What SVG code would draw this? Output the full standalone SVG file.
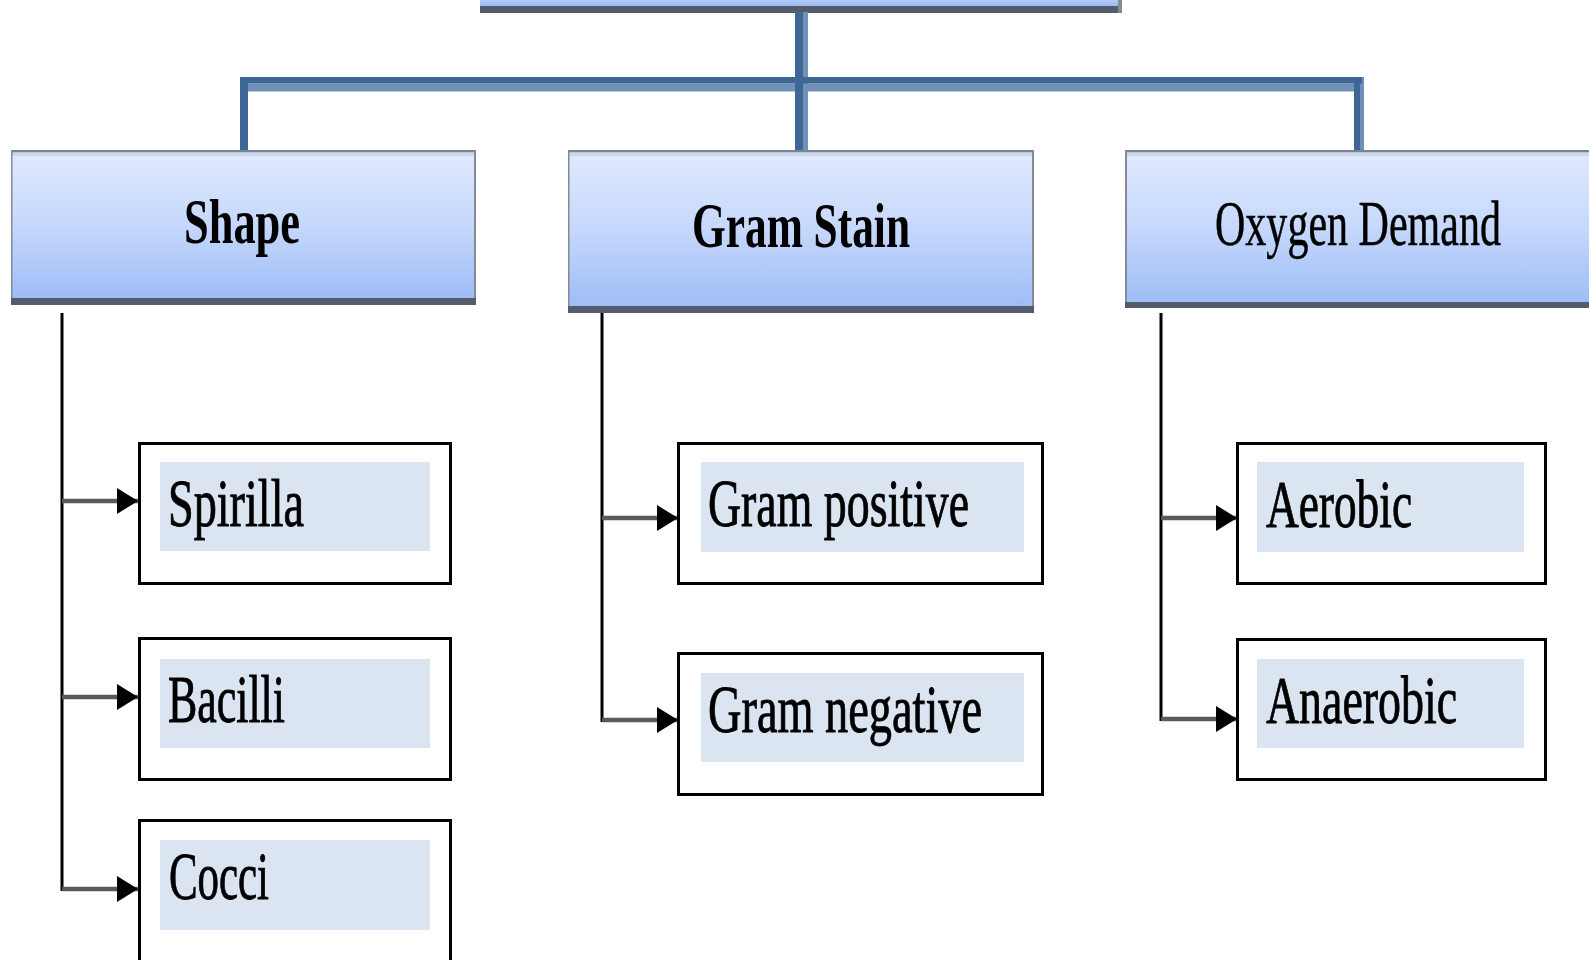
<svg xmlns="http://www.w3.org/2000/svg" width="1589" height="960" viewBox="0 0 1589 960">
  <style>
    .hdr-fill { fill: url(#hdrGrad); }
    .hdr-top { fill: #7d828e; }
    .hdr-hi { fill: #cbd7ee; }
    .hdr-side { fill: #858a96; }
    .hdr-shadow { fill: #545b6b; }
    .hdr-text { font-family: "Liberation Serif", "Times New Roman", serif; font-size: 63px; fill: #000; text-anchor: start; }
    .bold { font-weight: bold; }
    .thin { stroke: #000; stroke-width: 0.5; }
    .leaf-box { fill: #fff; stroke: #000; stroke-width: 3; }
    .leaf-fill { fill: #dbe5f1; }
    .leaf-text { font-family: "Liberation Serif", "Times New Roman", serif; font-size: 68px; fill: #000; stroke: #000; stroke-width: 0.9; }
    .trunk { fill: #3e6696; }
    .trunk-shade { fill: #7090b8; }
    .stem { stroke: #000; stroke-width: 3; fill: none; }
    .branch { stroke: #5a5a5a; stroke-width: 4.5; fill: none; marker-end: url(#head); }
  </style>
  <defs>
    <linearGradient id="hdrGrad" x1="0" y1="0" x2="0" y2="1">
      <stop offset="0" stop-color="#e0eafd"/>
      <stop offset="0.5" stop-color="#c6d8fb"/>
      <stop offset="1" stop-color="#9dbdf7"/>
    </linearGradient>
    <marker id="head" markerUnits="userSpaceOnUse" markerWidth="21" markerHeight="26" refX="21" refY="13" orient="auto">
      <path d="M0,0 L21,13 L0,26 z" fill="#000"/>
    </marker>
  </defs>

  <!-- root box (only its lower edge is on the page) -->
  <g id="root">
    <rect x="480" y="-20" width="642" height="26" class="hdr-fill"/>
    <rect x="480" y="6" width="642" height="7" class="hdr-shadow"/>
    <rect x="1118" y="-20" width="4" height="33" class="hdr-side"/>
  </g>

  <!-- connectors -->
  <g id="connectors">
    <!-- upper tree: root to the three categories -->
    <rect x="803" y="12" width="5" height="138" class="trunk-shade"/>
    <rect x="1360" y="77" width="4" height="73" class="trunk-shade"/>
    <rect x="248" y="83.5" width="1106" height="8" class="trunk-shade"/>
    <rect x="240" y="77" width="1122" height="6.5" class="trunk"/>
    <rect x="795" y="12" width="8" height="138" class="trunk"/>
    <rect x="240" y="77" width="8" height="73" class="trunk"/>
    <rect x="1354" y="77" width="6" height="73" class="trunk"/>

    <!-- shape branches -->
    <path d="M62,313 V891" class="stem"/>
    <path d="M62,501 H138" class="branch"/>
    <path d="M62,697 H138" class="branch"/>
    <path d="M62,889 H138" class="branch"/>

    <!-- gram stain branches -->
    <path d="M602,313 V722" class="stem"/>
    <path d="M602,518 H678" class="branch"/>
    <path d="M602,720 H678" class="branch"/>

    <!-- oxygen demand branches -->
    <path d="M1161,313 V721" class="stem"/>
    <path d="M1161,518 H1237" class="branch"/>
    <path d="M1161,719 H1237" class="branch"/>
  </g>

  <!-- category headers -->
  <g id="shape">
    <rect x="11" y="150" width="465" height="149" class="hdr-fill"/>
    <rect x="11" y="150" width="465" height="2.5" class="hdr-top"/>
    <rect x="11" y="152.5" width="465" height="3.5" class="hdr-hi"/>
    <rect x="11" y="150" width="1.5" height="149" class="hdr-side"/>
    <rect x="474" y="150" width="2" height="149" class="hdr-side"/>
    <rect x="11" y="298" width="465" height="7" class="hdr-shadow"/>
    <text x="184" y="243" class="hdr-text bold" textLength="116" lengthAdjust="spacingAndGlyphs">Shape</text>
  </g>

  <g id="gram-stain">
    <rect x="568" y="150" width="466" height="157" class="hdr-fill"/>
    <rect x="568" y="150" width="466" height="2.5" class="hdr-top"/>
    <rect x="568" y="152.5" width="466" height="3.5" class="hdr-hi"/>
    <rect x="568" y="150" width="1.5" height="157" class="hdr-side"/>
    <rect x="1032" y="150" width="2" height="157" class="hdr-side"/>
    <rect x="568" y="306" width="466" height="7" class="hdr-shadow"/>
    <text x="692" y="247" class="hdr-text bold" textLength="218" lengthAdjust="spacingAndGlyphs">Gram Stain</text>
  </g>

  <g id="oxygen-demand">
    <rect x="1125" y="150" width="464" height="153" class="hdr-fill"/>
    <rect x="1125" y="150" width="464" height="2.5" class="hdr-top"/>
    <rect x="1125" y="152.5" width="464" height="3.5" class="hdr-hi"/>
    <rect x="1125" y="150" width="2" height="153" class="hdr-side"/>
    <rect x="1125" y="302" width="464" height="6" class="hdr-shadow"/>
    <text x="1215" y="245" class="hdr-text thin" font-size="58" textLength="286" lengthAdjust="spacingAndGlyphs">Oxygen Demand</text>
  </g>

  <!-- shape types -->
  <g id="spirilla">
    <rect x="139.5" y="443.5" width="311" height="140" class="leaf-box"/>
    <rect x="160" y="462" width="270" height="89" class="leaf-fill"/>
    <text x="168" y="526" class="leaf-text" textLength="136" lengthAdjust="spacingAndGlyphs">Spirilla</text>
  </g>
  <g id="bacilli">
    <rect x="139.5" y="638.5" width="311" height="141" class="leaf-box"/>
    <rect x="160" y="659" width="270" height="89" class="leaf-fill"/>
    <text x="168" y="722" class="leaf-text" textLength="117" lengthAdjust="spacingAndGlyphs">Bacilli</text>
  </g>
  <g id="cocci">
    <rect x="139.5" y="820.5" width="311" height="160" class="leaf-box"/>
    <rect x="160" y="840" width="270" height="90" class="leaf-fill"/>
    <text x="169" y="899" class="leaf-text" textLength="100" lengthAdjust="spacingAndGlyphs">Cocci</text>
  </g>

  <!-- gram stain types -->
  <g id="gram-positive">
    <rect x="678.5" y="443.5" width="364" height="140" class="leaf-box"/>
    <rect x="701" y="462" width="323" height="90" class="leaf-fill"/>
    <text x="708" y="526" class="leaf-text" textLength="261" lengthAdjust="spacingAndGlyphs">Gram positive</text>
  </g>
  <g id="gram-negative">
    <rect x="678.5" y="653.5" width="364" height="141" class="leaf-box"/>
    <rect x="701" y="673" width="323" height="89" class="leaf-fill"/>
    <text x="708" y="732" class="leaf-text" textLength="274" lengthAdjust="spacingAndGlyphs">Gram negative</text>
  </g>

  <!-- oxygen demand types -->
  <g id="aerobic">
    <rect x="1237.5" y="443.5" width="308" height="140" class="leaf-box"/>
    <rect x="1257" y="462" width="267" height="90" class="leaf-fill"/>
    <text x="1266" y="527" class="leaf-text" textLength="146" lengthAdjust="spacingAndGlyphs">Aerobic</text>
  </g>
  <g id="anaerobic">
    <rect x="1237.5" y="639.5" width="308" height="140" class="leaf-box"/>
    <rect x="1257" y="659" width="267" height="89" class="leaf-fill"/>
    <text x="1266" y="723" class="leaf-text" textLength="191" lengthAdjust="spacingAndGlyphs">Anaerobic</text>
  </g>
</svg>
